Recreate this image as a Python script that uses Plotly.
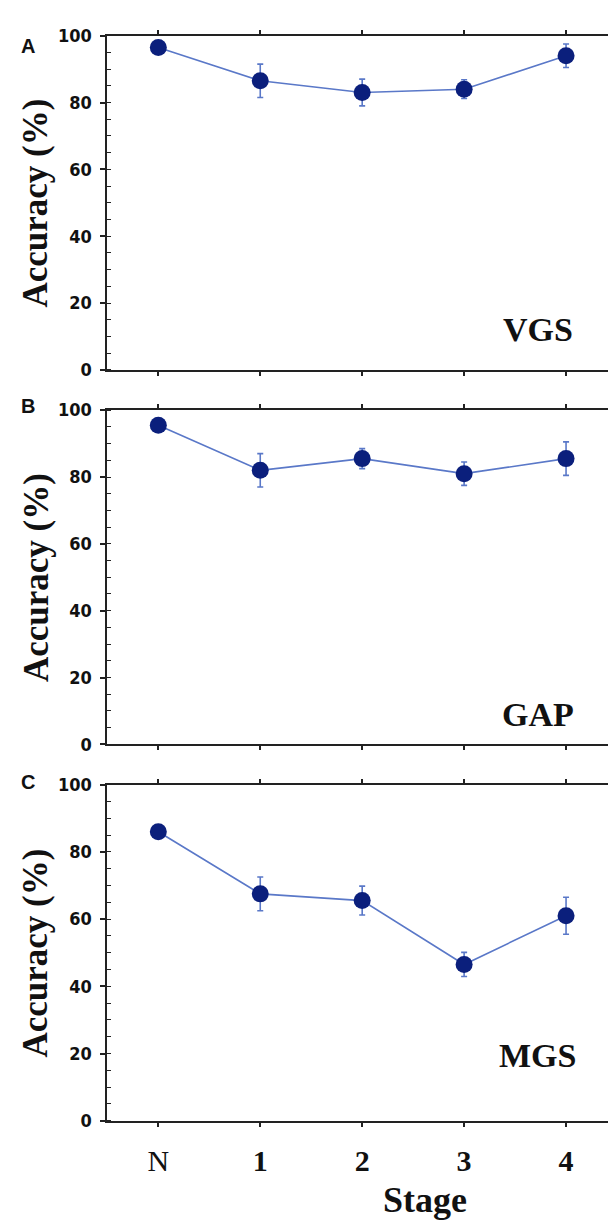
import plotly.graph_objects as go

# ---- data ----
stages = ["N", "1", "2", "3", "4"]
stage_text = ["N", "<b>1</b>", "<b>2</b>", "<b>3</b>", "<b>4</b>"]
y_ticks = [0, 20, 40, 60, 80, 100]

vgs = [96.5, 86.5, 83.0, 84.0, 94.0]
vgs_err = [0.8, 5.0, 4.0, 2.8, 3.5]

gap = [95.5, 82.0, 85.5, 81.0, 85.5]
gap_err = [0.8, 5.0, 3.0, 3.5, 5.0]

mgs = [86.0, 67.5, 65.5, 46.5, 61.0]
mgs_err = [0.8, 5.0, 4.3, 3.6, 5.5]

panels = [("A", "VGS", vgs, vgs_err), ("B", "GAP", gap, gap_err), ("C", "MGS", mgs, mgs_err)]

W, H = 616, 1224
# pixel extents of each panel (top, bottom)
extents = [(17, 357), (398, 738), (779, 1121)]
label_pos = [(3.72, 12), (3.72, 9), (3.72, 19.5)]
letter_y = [27, 394, 776]

LINE_C = "#5a78c8"
MARK_C = "#0b1f7c"
AX_C = "#222222"

fig = go.Figure()
x_dom = [100 / W, 613 / W]

for i, (letter, name, vals, errs) in enumerate(panels):
    n = i + 1
    xa = "x" if n == 1 else f"x{n}"
    ya = "y" if n == 1 else f"y{n}"
    fig.add_trace(go.Scatter(
        x=stages, y=vals, xaxis=xa, yaxis=ya, mode="lines+markers",
        line=dict(color=LINE_C, width=1.6),
        marker=dict(color=MARK_C, size=17, line=dict(width=0)),
        error_y=dict(type="data", array=errs, visible=True, color=LINE_C,
                     thickness=1.6, width=3),
        showlegend=False, cliponaxis=False,
    ))
    top, bot = extents[i]
    dom = [1 - bot / H, 1 - top / H]
    last = (n == 3)
    fig.layout[f"xaxis{'' if n == 1 else n}"] = dict(
        domain=x_dom, anchor=ya, type="category", range=[-0.5, 4.5],
        tickmode="array", tickvals=stages, ticktext=stage_text,
        showticklabels=last, ticks="outside", ticklen=4, tickwidth=1.5,
        tickcolor=AX_C, showline=True, linecolor=AX_C, linewidth=2,
        mirror="ticks", showgrid=False, zeroline=False,
        tickfont=dict(family="Liberation Serif, Times New Roman, serif", size=30, color="#111"),
        ticklabelstandoff=8,
    )
    fig.layout[f"yaxis{'' if n == 1 else n}"] = dict(
        domain=dom, anchor=xa, range=[0, 100], tickmode="array", tickvals=y_ticks,
        ticks="outside", ticklen=5, tickwidth=1.5, tickcolor=AX_C,
        showline=True, linecolor=AX_C, linewidth=2, mirror="ticks",
        showgrid=False, zeroline=False,
        minor=dict(dtick=5, ticks="inside", ticklen=4, tickwidth=1.2, tickcolor=AX_C),
        tickfont=dict(family="Liberation Sans Narrow, DejaVu Sans Condensed, Arial Narrow, sans-serif",
                      size=18, color="#111", weight="bold"),
        ticklabelstandoff=5,
    )
    # y-axis title
    fig.add_annotation(
        xref="paper", yref="paper", x=28 / W, y=1 - (top + bot) / 2 / H,
        text="<b>Accuracy (%)</b>", textangle=-90, showarrow=False,
        xanchor="center", yanchor="middle",
        font=dict(family="Liberation Serif, Times New Roman, serif", size=35, color="#111"),
    )
    # panel letter
    fig.add_annotation(
        xref="paper", yref="paper", x=20 / W, y=1 - letter_y[i] / H,
        text=f"<b>{letter}</b>", showarrow=False, xanchor="center", yanchor="middle",
        font=dict(family="Liberation Sans, Arial, sans-serif", size=20, color="#111"),
    )
    # condition label
    lx, ly = label_pos[i]
    fig.add_annotation(
        xref=xa, yref=ya, x=lx, y=ly, text=f"<b>{name}</b>", showarrow=False,
        xanchor="center", yanchor="middle",
        font=dict(family="Liberation Serif, Times New Roman, serif", size=34, color="#111"),
    )

# x-axis title
fig.add_annotation(
    xref="paper", yref="paper", x=420 / W, y=1 - 1202 / H, text="<b>Stage</b>",
    showarrow=False, xanchor="center", yanchor="middle",
    font=dict(family="Liberation Serif, Times New Roman, serif", size=36, color="#111"),
)

fig.update_layout(
    width=W, height=H, margin=dict(l=0, r=0, t=0, b=0),
    paper_bgcolor="white", plot_bgcolor="white",
)

fig.write_html("out.html")
